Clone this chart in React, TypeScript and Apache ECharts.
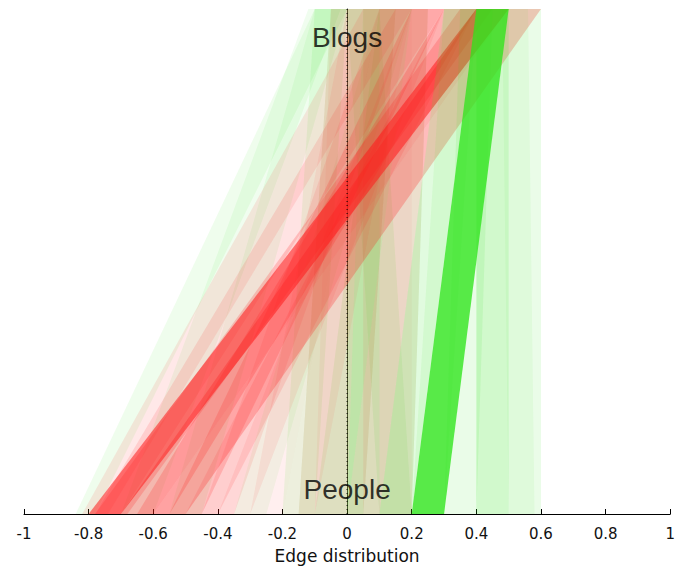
import React, { useEffect, useRef } from "react";
import * as echarts from "echarts";

// Each band joins an interval on the "People" side (y = 0) to an interval on the "Blogs" side (y = 1)
const bottomStart = [
  -0.84, -0.7, -0.55, -0.35, -0.2, -0.1, 0.1, 0.0, 0.0, -0.15,
  -0.82, -0.78, -0.3, -0.2, -0.1, 0.0, 0.1, 0.05, -0.15,
  -0.45, -0.4, -0.5, -0.55, -0.6, -0.65, -0.7, -0.78, -0.8,
  0.1, 0.2, 0.3, 0.5, 0.5, 0.4, 0.2,
];
const bottomEnd = [
  -0.78, -0.6, -0.45, -0.25, -0.1, 0.0, 0.2, 0.1, 0.2, 0.05,
  -0.74, -0.7, -0.2, -0.1, 0.0, 0.1, 0.2, 0.2, 0.05,
  -0.35, -0.3, -0.4, -0.45, -0.5, -0.55, -0.6, -0.68, -0.7,
  0.2, 0.3, 0.4, 0.58, 0.6, 0.5, 0.3,
];
const topStart = [
  -0.1, -0.12, -0.1, 0.1, -0.1, 0.1, 0.0, 0.0, 0.05, -0.05,
  0.05, 0.15, 0.0, 0.1, -0.05, 0.2, 0.1, 0.05, -0.05,
  0.1, 0.2, 0.3, 0.2, 0.5, 0.3, 0.4, 0.35, 0.4,
  0.3, 0.3, 0.35, 0.48, 0.5, 0.4, 0.4,
];
const topEnd = [
  0.0, -0.02, 0.0, 0.2, 0.0, 0.2, 0.1, 0.1, 0.25, 0.15,
  0.2, 0.3, 0.1, 0.2, 0.05, 0.3, 0.2, 0.25, 0.15,
  0.2, 0.3, 0.4, 0.3, 0.6, 0.4, 0.5, 0.45, 0.5,
  0.4, 0.4, 0.45, 0.56, 0.6, 0.5, 0.5,
];
const bandKind = [
  "g", "g", "g", "g", "g", "g", "g", "g", "g", "g",
  "r", "r", "r", "r", "r", "r", "r", "r", "r",
  "r", "r", "r", "r", "r", "r", "r", "r", "r",
  "g", "g", "g", "g", "g", "g", "g",
];
const bandOpacity = [
  0.08, 0.07, 0.07, 0.06, 0.09, 0.1, 0.09, 0.1, 0.1, 0.08,
  0.1, 0.12, 0.07, 0.06, 0.05, 0.05, 0.04, 0.08, 0.07,
  0.1, 0.08, 0.12, 0.18, 0.25, 0.2, 0.3, 0.2, 0.55,
  0.14, 0.08, 0.1, 0.06, 0.1, 0.22, 0.78,
];

const xTicks = { min: -1, max: 1, step: 0.2 };
const sideLabels = ["Blogs", "People"];
const sideY = [1, 0];
const sideOffset = [28, -25];

const RED = "rgb(255,25,25)";
const GREEN = "rgb(45,228,25)";
const TICK_FONT = "DejaVu Sans, Liberation Sans, sans-serif";
const TITLE_FONT = "Liberation Sans, Arial, sans-serif";

export default function App() {
  const ref = useRef<HTMLDivElement>(null);
  useEffect(() => {
    const chart = echarts.init(ref.current!, null, { renderer: "svg" });
    const bandData = bottomStart.map((_, i) => [bottomStart[i], bottomEnd[i], topStart[i], topEnd[i]]);
    chart.setOption({
      animation: false,
      backgroundColor: "#fff",
      grid: { left: 24, right: 0, top: 9, bottom: 57 },
      xAxis: {
        type: "value",
        min: xTicks.min,
        max: xTicks.max,
        interval: xTicks.step,
        name: "Edge distribution",
        nameLocation: "middle",
        nameGap: 33,
        nameTextStyle: { color: "#111", fontSize: 17, fontFamily: TICK_FONT },
        axisLine: { show: true, lineStyle: { color: "#000", width: 1 } },
        axisTick: { show: true, inside: true, length: 5, lineStyle: { color: "#000" } },
        axisLabel: {
          color: "#111",
          fontSize: 15,
          margin: 12,
          fontFamily: TICK_FONT,
          formatter: (v: number) => String(+v.toFixed(1)),
          showMaxLabel: true,
          showMinLabel: true,
        },
        splitLine: { show: false },
      },
      yAxis: {
        type: "value",
        min: 0,
        max: 1,
        axisLine: { show: true, lineStyle: { color: "#333", width: 1 } },
        axisTick: { show: false },
        axisLabel: { show: false },
        splitLine: { show: false },
      },
      series: [
        {
          type: "custom",
          clip: true,
          data: bandData,
          renderItem: (params: any, api: any) => {
            const i = params.dataIndex;
            const p1 = api.coord([api.value(0), 0]);
            const p2 = api.coord([api.value(1), 0]);
            const p3 = api.coord([api.value(3), 1]);
            const p4 = api.coord([api.value(2), 1]);
            return {
              type: "polygon",
              shape: { points: [p1, p2, p3, p4] },
              style: {
                fill: bandKind[i] === "r" ? RED : GREEN,
                opacity: bandOpacity[i],
                stroke: "none",
              },
            };
          },
        },
        {
          type: "line",
          data: [
            [0, 0],
            [0, 1],
          ],
          symbol: "none",
          lineStyle: { color: "#000", width: 1, type: [1, 3] },
          z: 5,
        },
        {
          type: "scatter",
          symbolSize: 0,
          data: sideLabels.map((name, i) => ({
            name,
            value: [0, sideY[i]],
            label: { offset: [0, sideOffset[i]] },
          })),
          label: {
            show: true,
            position: "inside",
            formatter: (p: any) => p.name,
            color: "#000",
            fontSize: 28,
            fontFamily: TITLE_FONT,
          },
          z: 6,
        },
      ],
    });
    return () => chart.dispose();
  }, []);
  return (
    <div
      ref={ref}
      style={{ position: "fixed", left: 0, top: 0, width: 678, height: 571, background: "#fff" }}
    />
  );
}
